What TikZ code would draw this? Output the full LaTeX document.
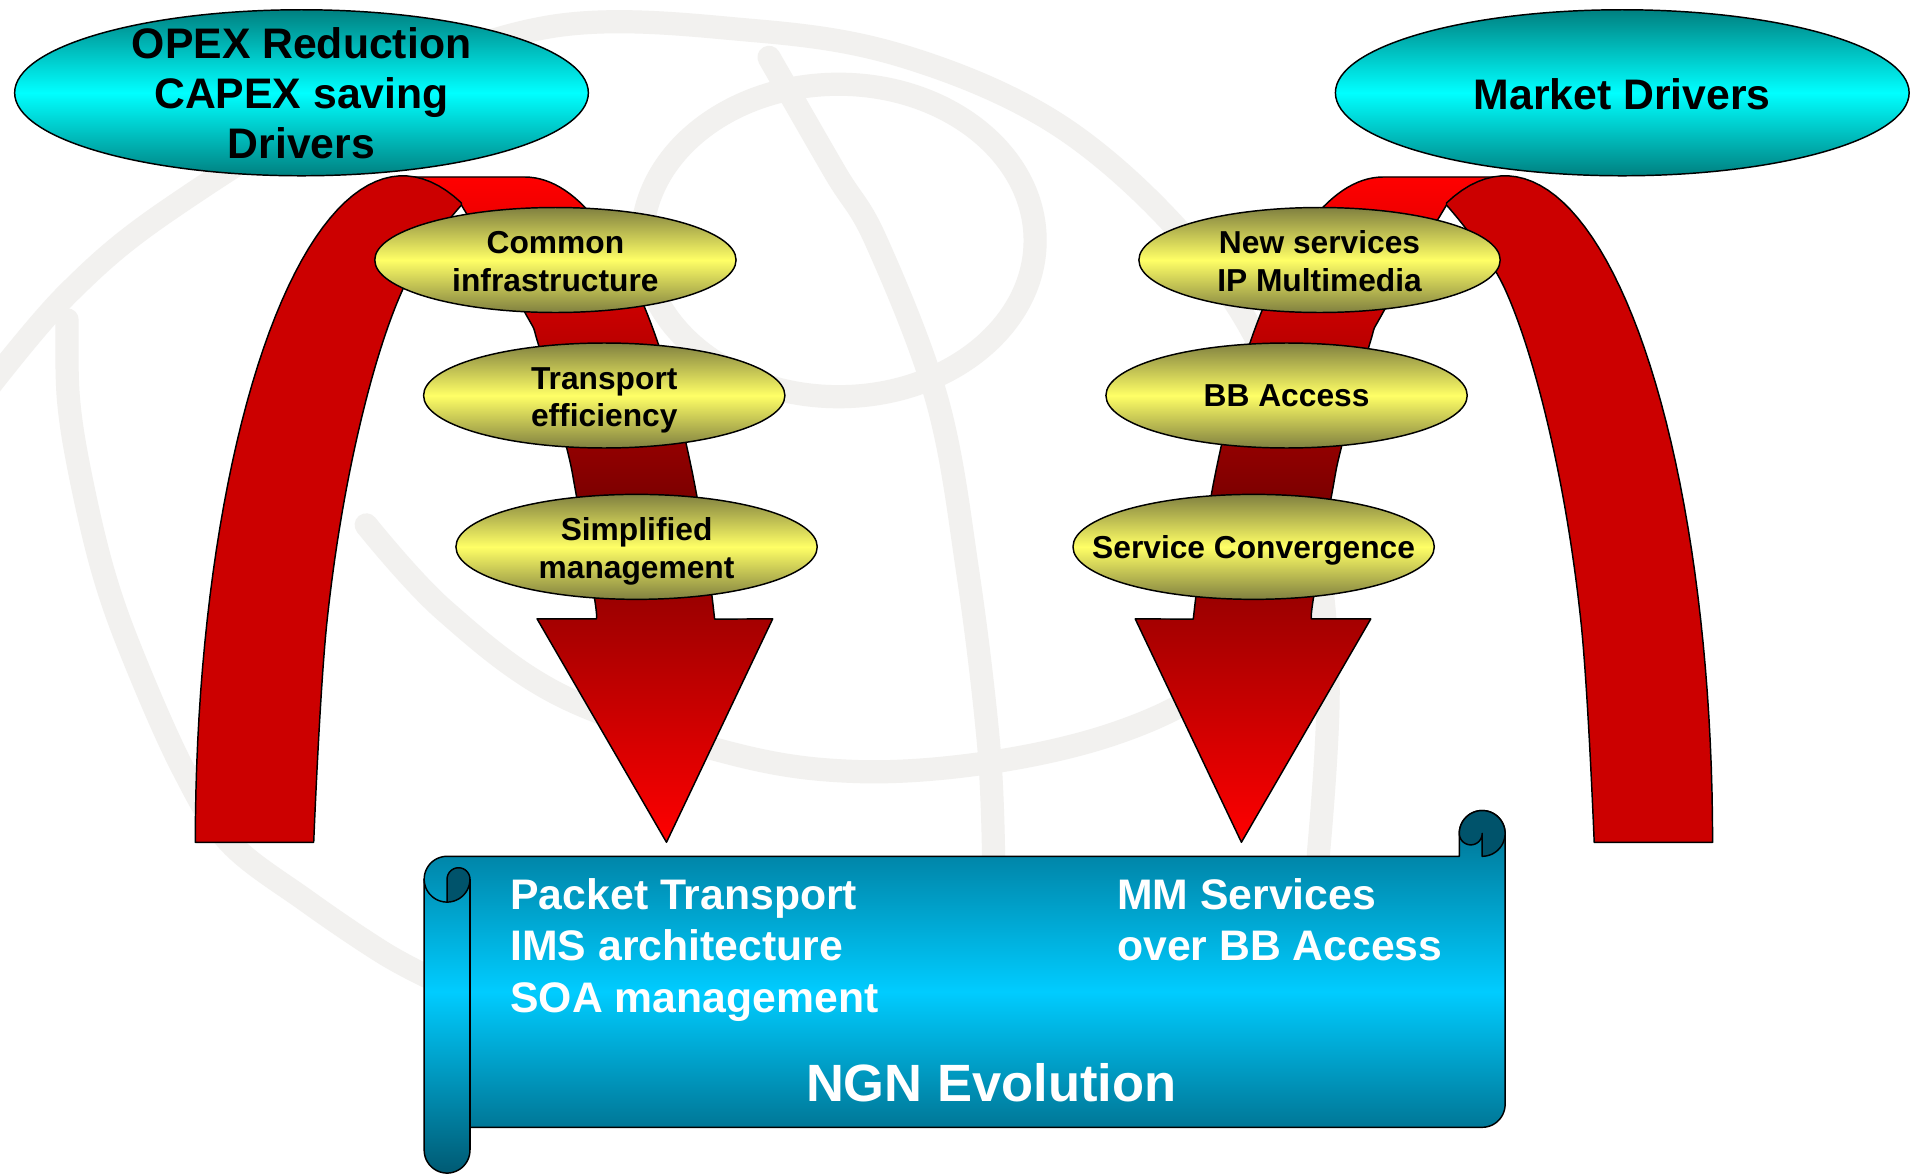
\documentclass[tikz,border=0pt]{standalone}
\usepackage{fontspec}
\setmainfont{Liberation Sans}
\usetikzlibrary{shapes.geometric}
\definecolor{frontred}{RGB}{204,0,0}
\definecolor{brightred}{RGB}{255,0,0}
\definecolor{darkred}{RGB}{120,0,0}
\definecolor{olivey}{RGB}{128,128,64}
\definecolor{lighty}{RGB}{255,255,102}
\definecolor{tealc}{RGB}{0,128,128}
\definecolor{cyanc}{RGB}{0,255,255}
\definecolor{scrolltop}{RGB}{0,110,140}
\definecolor{scrollmid}{RGB}{0,204,255}
\definecolor{scrollbot}{RGB}{0,90,115}
\definecolor{rolldark}{RGB}{0,83,107}
\definecolor{globe}{RGB}{242,241,239}
\tikzset{
  outl/.style={draw=black, line width=1.2pt, line join=round},
  yell/.style={ellipse, outl, minimum width=296pt, minimum height=86pt, inner sep=0pt,
    top color=olivey, bottom color=olivey, middle color=lighty},
  cyanell/.style={ellipse, outl, minimum width=470pt, minimum height=136pt, inner sep=0pt,
    top color=tealc, bottom color=tealc, middle color=cyanc},
  ytext/.style={font=\fontsize{26}{31}\selectfont\bfseries, align=center, inner sep=0pt},
  ctext/.style={font=\fontsize{35}{41}\selectfont\bfseries, align=center, inner sep=0pt},
  stext/.style={font=\fontsize{35}{42}\selectfont\bfseries, text=white, inner sep=0pt, anchor=base west},
  ngntext/.style={font=\fontsize{43}{50}\selectfont\bfseries, text=white, inner sep=0pt, anchor=base},
  globeline/.style={draw=globe, line width=19pt, line cap=round},
}
\newcommand\redcurve{%
  \path[outl, top color=brightred, bottom color=brightred, middle color=darkred]
    (334,145) -- plot[domain=270:340.4, samples=50, variable=\t] ({430+165*cos(\t)},{690+545*sin(\t)})
    -- (633,507) -- (546,690) -- (440,507) -- (488.5,507)
    -- plot[smooth, tension=0.6] coordinates {(488.5,507) (487,490) (472,405) (464,366) (441,282) (430,256) (378,168)}
    -- cycle;
  \path[outl, fill=frontred]
    (160,690) -- plot[domain=180:286.4, samples=50, variable=\t] ({330+170*cos(\t)},{690+546*sin(\t)})
    -- plot[smooth, tension=0.6] coordinates {(378,168) (330,237) (293,356) (268,508) (257,690)}
    -- cycle;
}
\begin{document}
\begin{tikzpicture}[x=1pt, y=-1pt]
\useasboundingbox (0,0) rectangle (1568,961);
\fill[white] (0,0) rectangle (1568,961);

% faint globe in the background
\begin{scope}
\clip (0,0) rectangle (1568,961);
\draw[globeline] plot[smooth, tension=0.6] coordinates {(-10,318) (56,240) (138,172) (290,80) (450,22) (617,25) (743,47) (868,103) (973,197) (1040,300) (1075,430) (1088,560) (1080,700)};
\draw[globeline] plot[smooth, tension=0.6] coordinates {(300,430) (364,500) (460,570) (598,617) (700,632) (808,625) (910,602) (988,565) (1040,510)};
\draw[globeline] plot[smooth, tension=0.6] coordinates {(630,47) (684,141) (718,198) (768,329) (793,470) (810,611) (814,705)};
\draw[globeline] (687,197) ellipse[x radius=161, y radius=128];
\draw[globeline] plot[smooth, tension=0.6] coordinates {(55,262) (56,326) (66,390) (85,470) (110,540) (150,630) (188,690) (251,738) (313,780) (350,800)};
\end{scope}

% curved arrows
\redcurve
\begin{scope}[xshift=1563pt, xscale=-1]
\redcurve
\end{scope}

% yellow ellipses
\node[yell] (common) at (455,213) {};
\node[yell] (transport) at (495,324) {};
\node[yell] (simplified) at (521.5,448) {};
\node[yell] (newserv) at (1081,213) {};
\node[yell] (bbaccess) at (1054,324) {};
\node[yell] (servconv) at (1027,448) {};
\node[ytext] (tcommon) at ([yshift=-1pt]common) {Common\\infrastructure};
\node[ytext] (ttransport) at ([yshift=-4pt]transport) {Transport\\efficiency};
\node[ytext] (tsimplified) at ([yshift=-3.5pt]simplified) {Simplified\\management};
\node[ytext] (tnewserv) at ([yshift=-1pt]newserv) {New services\\IP Multimedia};
\node[ytext] (tbbaccess) at ([yshift=-0.5pt]bbaccess) {BB Access};
\node[ytext] (tservconv) at ([yshift=-3pt]servconv) {Service Convergence};

% cyan ellipses
\node[cyanell] (opex) at (247,76) {};
\node[cyanell] (market) at (1329,76) {};
\node[ctext] (topex) at ([yshift=-0.5pt]opex) {OPEX Reduction\\CAPEX saving\\Drivers};
\node[ctext] (tmarket) at ([yshift=-1pt]market) {Market Drivers};

% scroll
\def\l{347.5}\def\r{1233}\def\t{664}\def\b{961}
\def\ch{37.5}\def\chh{18.75}\def\chq{9.375}
\pgfmathsetmacro\yT{\t+\ch}
\pgfmathsetmacro\yc{\t+\ch+\chh}
\pgfmathsetmacro\yB{\b-\ch}
\pgfmathsetmacro\ys{\b-\chh}
\pgfmathsetmacro\xc{\r-\ch}
\pgfmathsetmacro\xd{\r-\chh}
\pgfmathsetmacro\lc{\l+\ch}
\pgfmathsetmacro\lh{\l+\chh}
\pgfmathsetmacro\yr{\t+\chh}
\path[outl, top color=scrolltop, bottom color=scrollbot, middle color=scrollmid]
  (\l,\yc) -- plot[domain=180:270, samples=20, variable=\a] ({\lh+\chh*cos(\a)},{\yc+\chh*sin(\a)})
  -- (\xc,\yT) -- (\xc,\yr)
  -- plot[domain=180:360, samples=30, variable=\a] ({\xd+\chh*cos(\a)},{\yr+\chh*sin(\a)})
  -- (\r,\yB-\chh)
  -- plot[domain=0:90, samples=20, variable=\a] ({\xd+\chh*cos(\a)},{\yB-\chh+\chh*sin(\a)})
  -- (\lc,\yB) -- (\lc,\ys)
  -- plot[domain=0:180, samples=30, variable=\a] ({\lh+\chh*cos(\a)},{\ys+\chh*sin(\a)})
  -- cycle;
% right roll
\path[outl, fill=rolldark]
  (\xc,\yr) -- plot[domain=180:450, samples=50, variable=\a] ({\xd+\chh*cos(\a)},{\yr+\chh*sin(\a)})
  -- (\xd,\yr)
  -- plot[domain=0:180, samples=20, variable=\a] ({\xd-\chq+\chq*cos(\a)},{\yr+\chq*sin(\a)})
  -- cycle;
% left roll
\path[outl, fill=rolldark]
  (\lh,\yc) -- plot[domain=180:360, samples=20, variable=\a] ({\lh+\chq+\chq*cos(\a)},{\yc+\chq*sin(\a)})
  -- plot[domain=0:90, samples=20, variable=\a] ({\lh+\chh*cos(\a)},{\yc+\chh*sin(\a)})
  -- cycle;
\draw[outl] plot[domain=90:180, samples=20, variable=\a] ({\lh+\chh*cos(\a)},{\yc+\chh*sin(\a)});
\draw[outl] (\lc,\yc) -- (\lc,\ys);

\node[stext] (s1) at (418,745) {Packet Transport};
\node[stext] (s2) at (418,787) {IMS architecture};
\node[stext] (s3) at (418,829.5) {SOA management};
\node[stext] (s4) at (915,745) {MM Services};
\node[stext] (s5) at (915,787) {over BB Access};
\node[ngntext] (ngn) at (812,902) {NGN Evolution};
\end{tikzpicture}
\end{document}
